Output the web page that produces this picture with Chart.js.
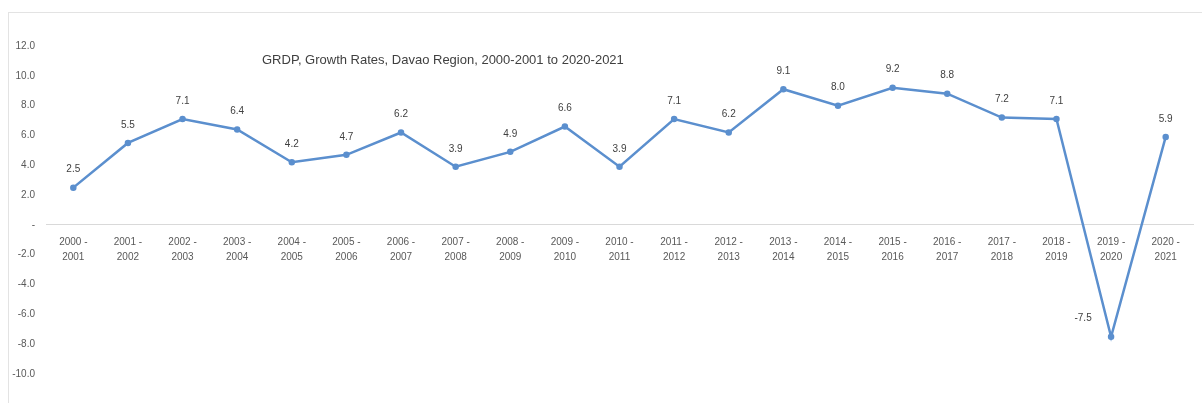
<!DOCTYPE html>
<html>
<head>
<meta charset="utf-8">
<script src="https://cdn.jsdelivr.net/npm/chart.js@4"></script>
<style>
  body { margin: 0; background: #fff; }
  #wrap { position: relative; width: 1202px; height: 403px; }
  #frame { position: absolute; left: 8px; top: 12px; right: 0; bottom: 0;
           border-left: 1px solid #e3e3e3; border-top: 1px solid #e3e3e3; }
  #chart { position: absolute; left: 0; top: 0; }
</style>
</head>
<body>
<div id="wrap">
  <div id="frame"></div>
  <canvas id="chart" width="1202" height="403"></canvas>
</div>
<script>
// períodos (eixo X)
const periods = [
  ['2000 -', '2001'], ['2001 -', '2002'], ['2002 -', '2003'], ['2003 -', '2004'],
  ['2004 -', '2005'], ['2005 -', '2006'], ['2006 -', '2007'], ['2007 -', '2008'],
  ['2008 -', '2009'], ['2009 -', '2010'], ['2010 -', '2011'], ['2011 -', '2012'],
  ['2012 -', '2013'], ['2013 -', '2014'], ['2014 -', '2015'], ['2015 -', '2016'],
  ['2016 -', '2017'], ['2017 -', '2018'], ['2018 -', '2019'], ['2019 -', '2020'],
  ['2020 -', '2021']
];

// taxas de crescimento (%)
const growthRates = [2.5, 5.5, 7.1, 6.4, 4.2, 4.7, 6.2, 3.9, 4.9, 6.6, 3.9, 7.1, 6.2, 9.1, 8.0, 9.2, 8.8, 7.2, 7.1, -7.5, 5.9];

const yMin = -10;
const yMax = 12;
const yStep = 2;

const chartTitle = 'GRDP, Growth Rates, Davao Region, 2000-2001 to 2020-2021';

const FONT = "'Liberation Sans', Arial, sans-serif";
const LINE_COLOR = '#5b8fce';
const TEXT_COLOR = '#595959';

// Rótulos de valores sobre os pontos
const valueLabels = {
  id: 'valueLabels',
  afterDatasetsDraw(chart) {
    const ctx = chart.ctx;
    const meta = chart.getDatasetMeta(0);
    ctx.save();
    ctx.font = '10px ' + FONT;
    ctx.fillStyle = '#404040';
    ctx.textAlign = 'center';
    ctx.textBaseline = 'middle';
    meta.data.forEach((pt, i) => {
      const v = growthRates[i];
      if (v < 0) {
        ctx.fillText(v.toFixed(1), pt.x - 28, pt.y - 18);
      } else {
        ctx.fillText(v.toFixed(1), pt.x, pt.y - 18);
      }
    });
    ctx.restore();
  }
};

// Título dentro da área do gráfico
const innerTitle = {
  id: 'innerTitle',
  afterDraw(chart) {
    const ctx = chart.ctx;
    ctx.save();
    ctx.font = '13px ' + FONT;
    ctx.fillStyle = '#404040';
    ctx.textAlign = 'left';
    ctx.textBaseline = 'middle';
    ctx.fillText(chartTitle, 262, 60);
    ctx.restore();
  }
};

new Chart(document.getElementById('chart'), {
  type: 'line',
  data: {
    labels: periods,
    datasets: [{
      data: growthRates,
      borderColor: LINE_COLOR,
      backgroundColor: LINE_COLOR,
      borderWidth: 2.5,
      pointRadius: 2,
      pointHoverRadius: 2,
      tension: 0
    }]
  },
  options: {
    responsive: false,
    animation: false,
    layout: { padding: { top: 46, bottom: 29, left: 0, right: 9 } },
    plugins: {
      legend: { display: false },
      tooltip: { enabled: false },
      title: { display: false }
    },
    scales: {
      x: {
        position: { y: 0 },
        offset: true,
        afterFit: s => { s.height = 0; },
        grid: { display: false, drawTicks: false, offset: true },
        border: { display: true, color: '#d9d9d9', width: 1 },
        ticks: {
          color: TEXT_COLOR,
          font: { size: 10, family: FONT, lineHeight: 1.5 },
          padding: 10,
          maxRotation: 0,
          autoSkip: false
        }
      },
      y: {
        min: yMin,
        max: yMax,
        afterFit: s => { s.width = 46; },
        grid: { display: false, drawTicks: false },
        border: { display: false },
        ticks: {
          stepSize: yStep,
          color: TEXT_COLOR,
          font: { size: 10, family: FONT },
          padding: 11,
          callback: v => v === 0 ? '-' : v.toFixed(1)
        }
      }
    }
  },
  plugins: [valueLabels, innerTitle]
});
</script>
</body>
</html>
